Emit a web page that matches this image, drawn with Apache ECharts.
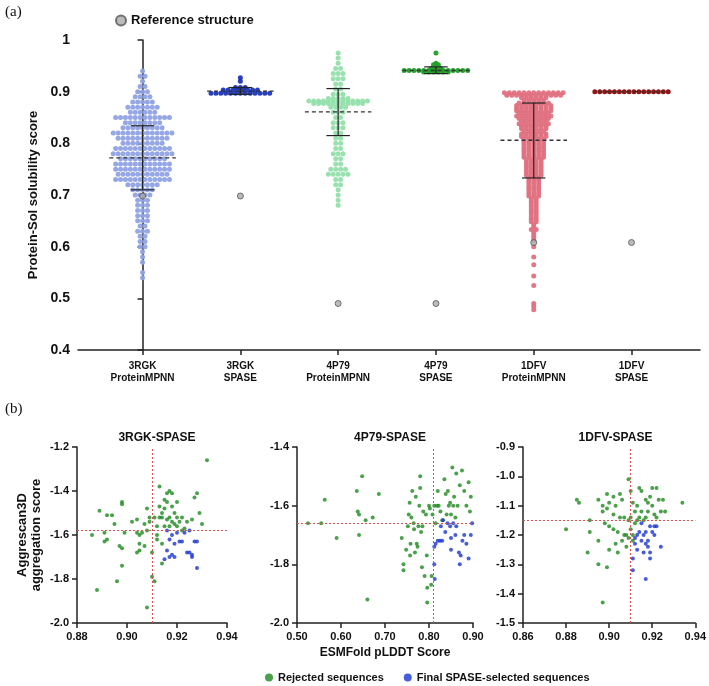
<!DOCTYPE html>
<html>
<head>
<meta charset="utf-8">
<script src="https://cdn.jsdelivr.net/npm/echarts@6/dist/echarts.min.js"></script>
<style>
  html, body { margin: 0; padding: 0; background: #fff; }
  #chart { width: 709px; height: 686px; }
</style>
</head>
<body>
<div id="chart"></div>
<script>
// ---- panel (a): solubility swarms, [value, number of dots at that value]
const groupNames = ["3RGK\nProteinMPNN", "3RGK\nSPASE", "4P79\nProteinMPNN", "4P79\nSPASE", "1DFV\nProteinMPNN", "1DFV\nSPASE"];
const groupColors = ["#8fa2e4", "#1c36b8", "#93e0ac", "#1f9e26", "#e0707f", "#8c0a0a"];

const rgkMpnn = [[0.94,1],[0.93,2],[0.92,1],[0.91,2],[0.90,3],[0.89,4],[0.88,5],[0.87,7],[0.86,6],[0.85,12],[0.84,8],[0.83,9],[0.82,13],[0.81,11],[0.80,9],[0.79,12],[0.78,13],[0.77,10],[0.76,12],[0.75,12],[0.74,11],[0.73,12],[0.72,7],[0.71,5],[0.70,4],[0.69,3],[0.68,3],[0.67,3],[0.66,3],[0.65,3],[0.64,2],[0.63,3],[0.62,2],[0.61,2],[0.60,2],[0.59,1],[0.58,1],[0.57,1],[0.55,1],[0.54,1]];
const rgkSpase = [[0.927,1],[0.920,1],[0.908,3],[0.903,8],[0.897,13]];
const p79Mpnn = [[0.975,1],[0.965,1],[0.955,1],[0.945,2],[0.935,3],[0.925,3],[0.915,2],[0.905,2],[0.895,3],[0.887,5],[0.882,13],[0.877,11],[0.87,4],[0.86,3],[0.85,2],[0.84,3],[0.83,3],[0.82,2],[0.81,2],[0.80,2],[0.79,2],[0.78,3],[0.77,2],[0.76,2],[0.75,4],[0.74,5],[0.73,2],[0.72,2],[0.71,1],[0.70,1],[0.69,1],[0.68,1]];
const p79Spase = [[0.975,1],[0.955,1],[0.952,2],[0.945,3],[0.941,14],[0.938,6]];
const dfvMpnn = [[0.898,13],[0.893,12],[0.888,6],[0.883,5],[0.878,7],[0.873,8],[0.868,8],[0.863,8],[0.858,7],[0.853,8],[0.848,7],[0.843,6],[0.838,7],[0.833,6],[0.828,6],[0.823,5],[0.818,6],[0.813,6],[0.808,5],[0.803,5],[0.798,5],[0.793,5],[0.788,5],[0.783,5],[0.778,5],[0.773,5],[0.768,4],[0.763,4],[0.758,4],[0.753,4],[0.748,4],[0.743,4],[0.738,4],[0.733,3],[0.728,3],[0.723,3],[0.718,3],[0.713,3],[0.708,3],[0.703,3],[0.698,3],[0.693,2],[0.688,2],[0.683,2],[0.678,2],[0.673,2],[0.668,2],[0.663,2],[0.658,2],[0.653,2],[0.648,2],[0.643,1],[0.638,1],[0.633,2],[0.628,1],[0.623,1],[0.618,1],[0.613,1],[0.600,1],[0.58,1],[0.565,1],[0.543,1],[0.525,1],[0.49,1],[0.484,1],[0.478,1]];
const dfvSpase = [[0.900,16]];
const swarms = [rgkMpnn, rgkSpase, p79Mpnn, p79Spase, dfvMpnn, dfvSpase];

// mean, SD low, SD high
const groupMean = [0.772, 0.901, 0.861, 0.941, 0.806, 0.900];
const groupSdLow = [0.710, 0.895, 0.815, 0.935, 0.733, 0.900];
const groupSdHigh = [0.834, 0.908, 0.906, 0.948, 0.878, 0.900];
const referenceScore = [0.698, 0.698, 0.490, 0.490, 0.608, 0.608];

// ---- panel (b): pLDDT vs aggregation, [pLDDT, score]
const rgkRejected = [[0.886,-1.60],[0.888,-1.85],[0.889,-1.49],[0.891,-1.63],[0.891,-1.59],[0.892,-1.51],[0.892,-1.62],[0.894,-1.51],[0.895,-1.55],[0.896,-1.81],[0.897,-1.65],[0.898,-1.66],[0.898,-1.74],[0.898,-1.45],[0.898,-1.46],[0.899,-1.59],[0.902,-1.54],[0.904,-1.59],[0.904,-1.53],[0.904,-1.68],[0.905,-1.60],[0.905,-1.67],[0.905,-1.64],[0.906,-1.59],[0.907,-1.65],[0.907,-1.55],[0.908,-1.48],[0.908,-1.58],[0.908,-1.93],[0.909,-1.52],[0.909,-1.54],[0.910,-1.79],[0.910,-1.68],[0.911,-1.81],[0.911,-1.52],[0.912,-1.60],[0.912,-1.62],[0.912,-1.56],[0.913,-1.47],[0.913,-1.52],[0.913,-1.38],[0.914,-1.50],[0.914,-1.64],[0.914,-1.73],[0.914,-1.52],[0.915,-1.44],[0.915,-1.48],[0.915,-1.56],[0.916,-1.41],[0.916,-1.53],[0.916,-1.45],[0.917,-1.40],[0.917,-1.52],[0.917,-1.56],[0.918,-1.41],[0.918,-1.54],[0.918,-1.47],[0.919,-1.55],[0.919,-1.50],[0.920,-1.45],[0.920,-1.52],[0.920,-1.56],[0.921,-1.54],[0.922,-1.52],[0.922,-1.58],[0.923,-1.57],[0.924,-1.54],[0.926,-1.53],[0.927,-1.43],[0.928,-1.41],[0.929,-1.50],[0.930,-1.55],[0.932,-1.26]];
const rgkSelected = [[0.915,-1.71],[0.916,-1.58],[0.916,-1.67],[0.917,-1.62],[0.917,-1.70],[0.918,-1.69],[0.918,-1.60],[0.919,-1.70],[0.919,-1.64],[0.920,-1.59],[0.921,-1.63],[0.922,-1.63],[0.923,-1.59],[0.924,-1.68],[0.925,-1.58],[0.925,-1.68],[0.926,-1.70],[0.926,-1.69],[0.927,-1.63],[0.928,-1.63],[0.928,-1.75]];
const p79Rejected = [[0.525,-1.66],[0.555,-1.66],[0.563,-1.58],[0.590,-1.71],[0.636,-1.55],[0.638,-1.62],[0.641,-1.63],[0.641,-1.70],[0.648,-1.50],[0.656,-1.65],[0.660,-1.92],[0.672,-1.64],[0.686,-1.56],[0.738,-1.71],[0.742,-1.80],[0.742,-1.82],[0.748,-1.75],[0.752,-1.67],[0.754,-1.63],[0.756,-1.59],[0.757,-1.77],[0.758,-1.73],[0.760,-1.64],[0.762,-1.55],[0.765,-1.66],[0.766,-1.68],[0.768,-1.76],[0.770,-1.57],[0.772,-1.73],[0.774,-1.74],[0.776,-1.67],[0.778,-1.60],[0.780,-1.54],[0.780,-1.50],[0.782,-1.69],[0.784,-1.81],[0.785,-1.67],[0.787,-1.62],[0.790,-1.84],[0.793,-1.63],[0.795,-1.77],[0.796,-1.88],[0.796,-1.93],[0.800,-1.60],[0.802,-1.61],[0.805,-1.87],[0.806,-1.84],[0.808,-1.63],[0.812,-1.60],[0.815,-1.66],[0.818,-1.60],[0.820,-1.55],[0.822,-1.60],[0.826,-1.62],[0.830,-1.65],[0.835,-1.51],[0.838,-1.56],[0.840,-1.63],[0.843,-1.55],[0.845,-1.60],[0.848,-1.59],[0.850,-1.63],[0.853,-1.47],[0.855,-1.60],[0.857,-1.57],[0.860,-1.64],[0.862,-1.49],[0.865,-1.60],[0.870,-1.53],[0.875,-1.48],[0.880,-1.55],[0.885,-1.60],[0.890,-1.52],[0.895,-1.57],[0.893,-1.62]];
const p79Selected = [[0.812,-1.74],[0.812,-1.80],[0.813,-1.85],[0.815,-1.73],[0.820,-1.72],[0.825,-1.72],[0.827,-1.67],[0.830,-1.72],[0.832,-1.65],[0.837,-1.69],[0.842,-1.66],[0.848,-1.67],[0.850,-1.75],[0.850,-1.71],[0.855,-1.66],[0.860,-1.70],[0.862,-1.67],[0.868,-1.76],[0.870,-1.80],[0.872,-1.77],[0.876,-1.72],[0.880,-1.70],[0.885,-1.73],[0.890,-1.78],[0.895,-1.70],[0.898,-1.66]];
const dfvRejected = [[0.880,-1.18],[0.885,-1.08],[0.886,-1.09],[0.890,-1.26],[0.891,-1.15],[0.891,-1.19],[0.895,-1.08],[0.895,-1.22],[0.895,-1.30],[0.897,-1.43],[0.897,-1.10],[0.897,-1.12],[0.898,-1.16],[0.899,-1.06],[0.899,-1.11],[0.899,-1.31],[0.900,-1.17],[0.900,-1.25],[0.900,-1.09],[0.902,-1.07],[0.902,-1.13],[0.902,-1.18],[0.903,-1.10],[0.903,-1.23],[0.904,-1.19],[0.904,-1.26],[0.905,-1.14],[0.905,-1.06],[0.906,-1.22],[0.906,-1.08],[0.907,-1.20],[0.907,-1.14],[0.908,-1.24],[0.908,-1.20],[0.909,-1.01],[0.909,-1.15],[0.909,-1.21],[0.910,-1.05],[0.910,-1.14],[0.910,-1.18],[0.911,-1.20],[0.911,-1.09],[0.911,-1.22],[0.912,-1.12],[0.912,-1.16],[0.913,-1.10],[0.913,-1.15],[0.914,-1.04],[0.914,-1.14],[0.915,-1.12],[0.915,-1.05],[0.916,-1.15],[0.917,-1.08],[0.917,-1.14],[0.918,-1.12],[0.918,-1.09],[0.919,-1.07],[0.920,-1.04],[0.920,-1.10],[0.921,-1.13],[0.922,-1.04],[0.922,-1.14],[0.923,-1.08],[0.924,-1.12],[0.925,-1.08],[0.926,-1.12],[0.934,-1.09]];
const dfvSelected = [[0.911,-1.28],[0.911,-1.32],[0.912,-1.21],[0.912,-1.23],[0.913,-1.20],[0.913,-1.25],[0.914,-1.19],[0.915,-1.16],[0.915,-1.22],[0.916,-1.26],[0.916,-1.20],[0.917,-1.19],[0.917,-1.23],[0.917,-1.35],[0.918,-1.22],[0.918,-1.24],[0.919,-1.17],[0.919,-1.26],[0.919,-1.28],[0.920,-1.19],[0.921,-1.17],[0.921,-1.20],[0.922,-1.17],[0.924,-1.24]];

const panelTitles = ["3RGK-SPASE", "4P79-SPASE", "1DFV-SPASE"];
const panelRejected = [rgkRejected, p79Rejected, dfvRejected];
const panelSelected = [rgkSelected, p79Selected, dfvSelected];
const panelCutX = [0.9145, 0.815, 0.911];
const panelCutY = [-1.577, -1.657, -1.148];
const panelX = [[0.88, 0.94, 0.02], [0.50, 0.90, 0.10], [0.86, 0.94, 0.02]];
const panelY = [[-2.0, -1.2, 0.2], [-2.0, -1.4, 0.2], [-1.5, -0.9, 0.1]];

const FONT = "Liberation Sans";
const chart = echarts.init(document.getElementById("chart"));

// swarm layout: spread each row of dots sideways around the group centre
const dotStep = 0.05;
function swarmPoints(rows, g) {
  const pts = [];
  rows.forEach(([v, n]) => {
    for (let i = 0; i < n; i++) pts.push([g + (i - (n - 1) / 2) * dotStep, v]);
  });
  return pts;
}

const bottomGrids = [
  { left: 77, top: 447, width: 150, height: 176 },
  { left: 297, top: 447, width: 176, height: 176 },
  { left: 523, top: 447, width: 175, height: 176 },
];

const axisLineStyle = { show: true, lineStyle: { color: "#222", width: 1.5 } };
const axisTickStyle = { show: true, length: 5, lineStyle: { color: "#222", width: 1.5 } };

const grids = [{ left: 78, right: 9, top: 40, height: 310 }].concat(bottomGrids);
const xAxes = [{
  gridIndex: 0, type: "value", min: -0.66, max: 5.7,
  splitLine: { show: false }, axisLine: axisLineStyle,
  axisTick: Object.assign({}, axisTickStyle, { customValues: [0, 1, 2, 3, 4, 5] }),
  axisLabel: {
    customValues: [0, 1, 2, 3, 4, 5], formatter: (v) => groupNames[Math.round(v)],
    fontFamily: FONT, fontWeight: "bold", fontSize: 10, color: "#111", lineHeight: 12, margin: 10,
  },
}];
const yAxes = [{
  gridIndex: 0, type: "value", min: 0.4, max: 1, interval: 0.1,
  name: "Protein-Sol solubility score", nameLocation: "middle", nameGap: 36,
  nameTextStyle: { fontFamily: FONT, fontWeight: "bold", fontSize: 13, color: "#111" },
  splitLine: { show: false }, axisLine: axisLineStyle, axisTick: axisTickStyle,
  axisLabel: { formatter: (v) => String(+v.toFixed(1)), fontFamily: FONT, fontWeight: "bold", fontSize: 14, color: "#111" },
}];
bottomGrids.forEach((g, i) => {
  xAxes.push({
    gridIndex: i + 1, type: "value", min: panelX[i][0], max: panelX[i][1], interval: panelX[i][2],
    splitLine: { show: false }, axisLine: axisLineStyle, axisTick: axisTickStyle,
    axisLabel: { formatter: (v) => v.toFixed(2), fontFamily: FONT, fontWeight: "bold", fontSize: 11, color: "#111" },
    name: i === 1 ? "ESMFold pLDDT Score" : "", nameLocation: "middle", nameGap: 24,
    nameTextStyle: { fontFamily: FONT, fontWeight: "bold", fontSize: 12, color: "#111" },
  });
  yAxes.push({
    gridIndex: i + 1, type: "value", min: panelY[i][0], max: panelY[i][1], interval: panelY[i][2],
    splitLine: { show: false }, axisLine: axisLineStyle, axisTick: axisTickStyle,
    axisLabel: { formatter: (v) => v.toFixed(1), fontFamily: FONT, fontWeight: "bold", fontSize: 11, color: "#111" },
    name: i === 0 ? "Aggrescan3D\naggregation score" : "", nameLocation: "middle", nameGap: 34,
    nameTextStyle: { fontFamily: FONT, fontWeight: "bold", fontSize: 13, color: "#111", lineHeight: 14 },
  });
});

const series = [];
swarms.forEach((rows, g) => {
  series.push({
    type: "scatter", xAxisIndex: 0, yAxisIndex: 0, symbolSize: 5, silent: true,
    itemStyle: { color: groupColors[g], opacity: 0.95 },
    data: swarmPoints(rows, g),
  });
});
series.push({
  type: "custom", xAxisIndex: 0, yAxisIndex: 0, silent: true, z: 5,
  data: groupMean.map((m, g) => [g, m, groupSdLow[g], groupSdHigh[g]]),
  renderItem: (params, api) => {
    const g = api.value(0), m = api.value(1), lo = api.value(2), hi = api.value(3);
    const pm0 = api.coord([g - 0.34, m]), pm1 = api.coord([g + 0.34, m]);
    const pl = api.coord([g, lo]), ph = api.coord([g, hi]);
    const c0 = api.coord([g - 0.12, lo])[0], c1 = api.coord([g + 0.12, lo])[0];
    const style = { stroke: "#222", lineWidth: 1.2 };
    const kids = [{ type: "line", shape: { x1: pm0[0], y1: pm0[1], x2: pm1[0], y2: pm1[1] }, style: { stroke: "#333", lineWidth: 1.3, lineDash: [4, 3] } }];
    if (hi > lo) {
      kids.push({ type: "line", shape: { x1: pl[0], y1: pl[1], x2: ph[0], y2: ph[1] }, style });
      kids.push({ type: "line", shape: { x1: c0, y1: pl[1], x2: c1, y2: pl[1] }, style });
      kids.push({ type: "line", shape: { x1: c0, y1: ph[1], x2: c1, y2: ph[1] }, style });
    }
    return { type: "group", children: kids };
  },
});
series.push({
  name: "Reference structure", type: "scatter", xAxisIndex: 0, yAxisIndex: 0, symbolSize: 6, z: 6,
  itemStyle: { color: "#aaaaaa", borderColor: "#555", borderWidth: 1 },
  data: referenceScore.map((v, g) => [g, v]),
});

panelTitles.forEach((t, i) => {
  const markLine = {
    silent: true, symbol: "none", label: { show: false },
    lineStyle: { color: "#d9534f", type: [2, 2], width: 1 },
    data: [{ xAxis: panelCutX[i] }, { yAxis: panelCutY[i] }],
  };
  series.push({
    name: "Rejected sequences", type: "scatter", xAxisIndex: i + 1, yAxisIndex: i + 1, symbolSize: 4,
    itemStyle: { color: "#1e8a1e" }, data: panelRejected[i], markLine,
  });
  series.push({
    name: "Final SPASE-selected sequences", type: "scatter", xAxisIndex: i + 1, yAxisIndex: i + 1, symbolSize: 4,
    itemStyle: { color: "#1a34d0" }, data: panelSelected[i],
  });
});

const titleStyle = { fontFamily: FONT, fontWeight: "bold", fontSize: 12, color: "#111" };
chart.setOption({
  backgroundColor: "#fff",
  animation: false,
  title: [
    { text: "(a)", left: 0, top: 0, textStyle: { fontFamily: "Liberation Serif", fontSize: 15, fontWeight: "normal", color: "#111" } },
    { text: "(b)", left: 0, top: 397, textStyle: { fontFamily: "Liberation Serif", fontSize: 15, fontWeight: "normal", color: "#111" } },
  ].concat(panelTitles.map((t, i) => ({
    text: t, left: bottomGrids[i].left + bottomGrids[i].width / 2, top: 427, textAlign: "center", textStyle: titleStyle,
  }))),
  legend: [
    { data: ["Reference structure"], left: 110, top: 9, itemWidth: 10, itemHeight: 10, itemGap: 6,
      textStyle: { fontFamily: FONT, fontWeight: "bold", fontSize: 13, color: "#111" } },
    { data: ["Rejected sequences", "Final SPASE-selected sequences"], left: 260, top: 667, itemWidth: 8, itemHeight: 8, itemGap: 20,
      textStyle: { fontFamily: FONT, fontWeight: "bold", fontSize: 11, color: "#111" } },
  ],
  grid: grids,
  xAxis: xAxes,
  yAxis: yAxes,
  series,
});
</script>
</body>
</html>
